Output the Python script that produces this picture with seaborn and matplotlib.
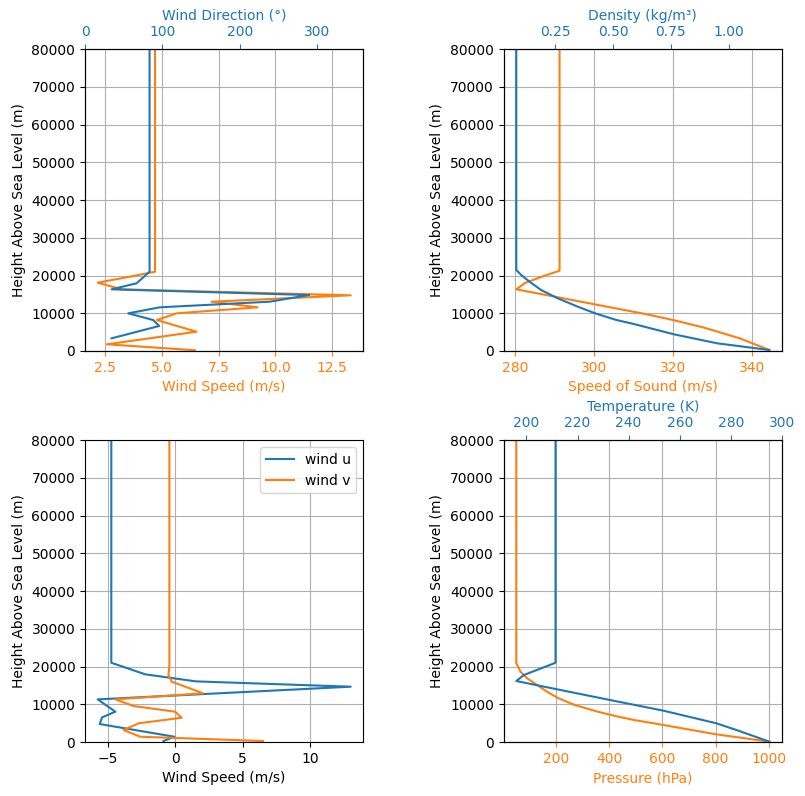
import matplotlib
matplotlib.use("Agg")
import matplotlib.pyplot as plt
import seaborn as sns

BLUE = "#1f77b4"
ORANGE = "#ff7f0e"

# wind speed / direction (top left)
h_speed = [200, 1770, 5110, 8200, 9980, 11570, 13060, 14750, 16340, 18100, 19870, 21000, 80000]
wind_speed = [6.45, 2.57, 6.52, 4.77, 5.64, 9.22, 7.18, 13.32, 3.23, 2.16, 3.74, 4.69, 4.69]
h_dir = [3360, 6620, 8200, 9980, 11570, 13060, 14830, 16340, 17930, 21000, 80000]
wind_dir = [34.4, 95.9, 88.2, 55.9, 96.8, 238.7, 290.0, 34.4, 66.7, 83.5, 83.5]

# speed of sound / density (top right)
h_sound = [265, 3360, 6270, 8210, 9720, 16340, 18100, 19870, 21270, 80000]
sound = [344.4, 336.9, 327.6, 320.0, 313.4, 280.35, 282.7, 287.3, 291.3, 291.3]
h_dens = [265, 2040, 4420, 7150, 8210, 9980, 11740, 13960, 16160, 18360, 20130, 21460, 80000]
density = [1.176, 0.95, 0.763, 0.59, 0.514, 0.422, 0.347, 0.26, 0.188, 0.138, 0.102, 0.0806, 0.0806]

# wind u / v (bottom left)
h_u = [265, 1400, 4770, 6540, 8040, 11300, 14660, 16070, 17930, 21000, 80000]
wind_u = [-0.87, -0.05, -5.59, -5.41, -4.43, -5.74, 13.0, 1.54, -2.21, -4.73, -4.73]
h_v = [265, 1400, 3180, 4950, 6440, 8040, 9540, 11300, 12910, 15990, 17750, 20130, 80000]
wind_v = [6.5, -2.59, -3.82, -2.72, 0.48, -0.01, -3.08, -4.43, 2.07, -0.25, -0.5, -0.43, -0.43]

# pressure / temperature (bottom right)
h_press = [100, 2040, 4520, 5830, 6700, 8030, 9800, 11570, 13320, 15100, 16870, 18620, 20850, 80000]
pressure = [1002.7, 802.6, 602.4, 494, 434, 356, 270, 208.6, 165, 127.6, 90, 65, 48.9, 48.9]
h_temp = [100, 3180, 4950, 8310, 11120, 16160, 17750, 21000, 80000]
temperature = [295.05, 282.2, 274.4, 253.6, 232.8, 196.05, 199.0, 211.4, 211.4]


def line(ax, x, y, color, label=None):
    sns.lineplot(x=x, y=y, ax=ax, color=color, sort=False, estimator=None,
                 label=label, linewidth=1.5)


def pair_panel(ax, xb, yb, lab_b, xt, yt, lab_t, bottom_color, top_color):
    line(ax, xb, yb, bottom_color)
    ax.set_xlabel(lab_b, color=bottom_color)
    ax.tick_params("x", colors=bottom_color)
    up = ax.twiny()
    line(up, xt, yt, top_color)
    up.set_xlabel(lab_t, color=top_color)
    up.tick_params("x", colors=top_color)
    ax.set_ylabel("Height Above Sea Level (m)")
    ax.set_ylim(0, 80000)
    ax.grid(True)
    return up


fig, axes = plt.subplots(2, 2, figsize=(8.05, 7.96), dpi=100)
fig.subplots_adjust(left=0.1056, right=0.9714, top=0.9384, bottom=0.0678,
                    wspace=0.504, hspace=0.295)

up1 = pair_panel(axes[0, 0], wind_speed, h_speed, "Wind Speed (m/s)",
                 wind_dir, h_dir, "Wind Direction (°)", ORANGE, BLUE)
up1.set_xlim(0, 360)
up1.set_ylim(0, 80000)

up2 = pair_panel(axes[0, 1], sound, h_sound, "Speed of Sound (m/s)",
                 density, h_dens, "Density (kg/m³)", ORANGE, BLUE)
up2.set_ylim(0, 80000)

ax3 = axes[1, 0]
line(ax3, wind_u, h_u, BLUE, label="wind u")
line(ax3, wind_v, h_v, ORANGE, label="wind v")
ax3.set_xlabel("Wind Speed (m/s)")
ax3.set_ylabel("Height Above Sea Level (m)")
ax3.set_ylim(0, 80000)
ax3.legend(loc="upper right")
ax3.grid(True)

up4 = pair_panel(axes[1, 1], pressure, h_press, "Pressure (hPa)",
                 temperature, h_temp, "Temperature (K)", ORANGE, BLUE)
up4.set_ylim(0, 80000)

fig.savefig("out.png", dpi=100)
